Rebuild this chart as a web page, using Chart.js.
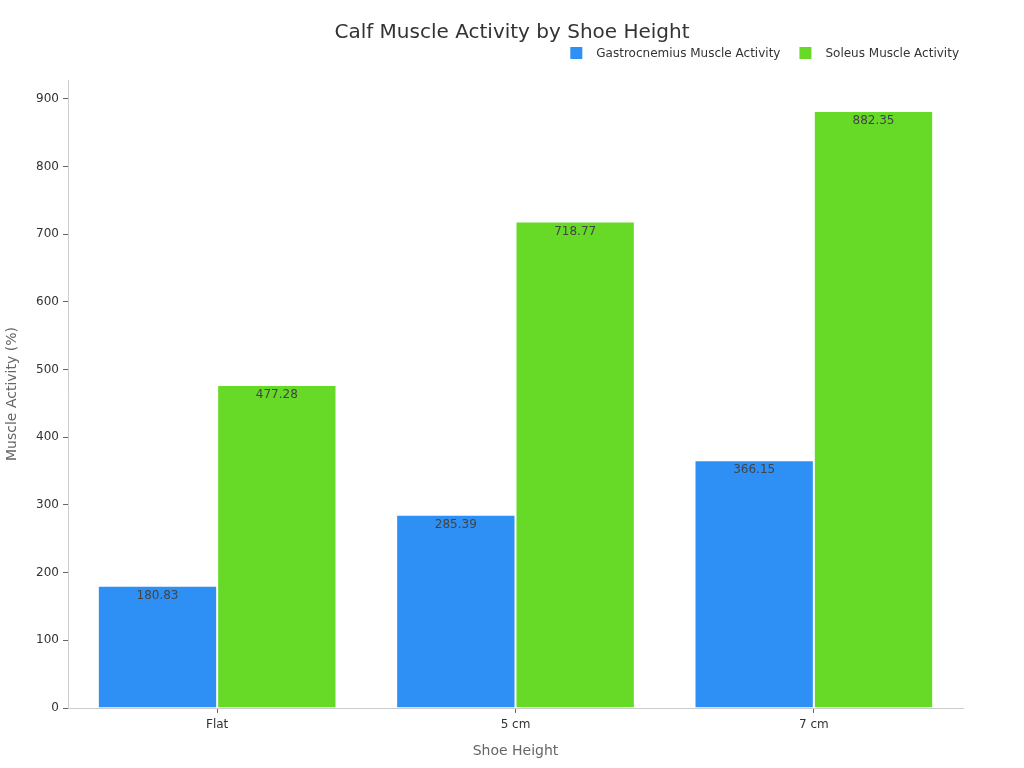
<!DOCTYPE html>
<html lang="en">
<head>
    <meta charset="UTF-8">
    <title>Calf Muscle Activity by Shoe Height</title>
    <script src="https://cdn.jsdelivr.net/npm/chart.js"></script>
    <style>
        body { margin: 0; background: #fff; }
        #wrap { width: 1024px; height: 768px; }
    </style>
</head>
<body>
    <div id="wrap"><canvas id="miGrafica" width="1024" height="768"></canvas></div>
    <script>
        // datos
        const categories = ['Flat', '5 cm', '7 cm'];
        const gastrocnemius = [180.83, 285.39, 366.15];
        const soleus = [477.28, 718.77, 882.35];
        const seriesNames = ['Gastrocnemius Muscle Activity', 'Soleus Muscle Activity'];
        const chartTitle = 'Calf Muscle Activity by Shoe Height';

        const FONT = '"DejaVu Sans", Verdana, sans-serif';
        Chart.defaults.font.family = FONT;

        // etiquetas de valor dentro de la barra, arriba
        const valueLabels = {
            id: 'valueLabels',
            afterDatasetsDraw(chart) {
                const ctx = chart.ctx;
                ctx.save();
                ctx.font = '12px ' + FONT;
                ctx.fillStyle = '#444';
                ctx.textAlign = 'center';
                ctx.textBaseline = 'middle';
                chart.data.datasets.forEach((ds, i) => {
                    chart.getDatasetMeta(i).data.forEach((bar, j) => {
                        ctx.fillText(ds.data[j].toFixed(2), bar.x, bar.y + 10);
                    });
                });
                ctx.restore();
            }
        };

        // titulo centrado en el lienzo y leyenda alineada a la derecha
        const header = {
            id: 'header',
            afterDraw(chart) {
                const ctx = chart.ctx;
                ctx.save();
                ctx.fillStyle = '#333';
                ctx.textAlign = 'center';
                ctx.textBaseline = 'middle';
                ctx.font = '20px ' + FONT;
                ctx.fillText(chartTitle, chart.width / 2, 33);

                ctx.font = '12px ' + FONT;
                ctx.textAlign = 'left';
                const box = 12, gap = 14, spacing = 19, y = 53;
                const items = chart.data.datasets.map(ds => ({
                    text: ds.label, color: ds.backgroundColor,
                    w: box + gap + ctx.measureText(ds.label).width
                }));
                let total = items.reduce((s, it) => s + it.w, 0) + spacing * (items.length - 1);
                let x = 959 - total;
                items.forEach(it => {
                    ctx.fillStyle = it.color;
                    ctx.fillRect(x, y - box / 2, box, box);
                    ctx.fillStyle = '#333';
                    ctx.fillText(it.text, x + box + gap, y + 1);
                    x += it.w + spacing;
                });
                ctx.restore();
            }
        };

        const ctx = document.getElementById('miGrafica').getContext('2d');
        new Chart(ctx, {
            type: 'bar',
            data: {
                labels: categories,
                datasets: [{
                    label: seriesNames[0],
                    data: gastrocnemius,
                    backgroundColor: '#2e8ff5',
                    borderColor: 'rgba(255,255,255,0.7)',
                    borderWidth: 1,
                    categoryPercentage: 0.8,
                    barPercentage: 1.0
                }, {
                    label: seriesNames[1],
                    data: soleus,
                    backgroundColor: '#66da26',
                    borderColor: 'rgba(255,255,255,0.7)',
                    borderWidth: 1,
                    categoryPercentage: 0.8,
                    barPercentage: 1.0
                }]
            },
            options: {
                responsive: false,
                animation: false,
                layout: { padding: { left: 0, right: 61, top: 80, bottom: 0 } },
                plugins: {
                    title: { display: false },
                    legend: { display: false },
                    tooltip: { enabled: false }
                },
                scales: {
                    x: {
                        grid: { drawOnChartArea: false, offset: false, tickLength: 5, color: '#666' },
                        border: { color: '#ccc' },
                        ticks: { color: '#333', font: { size: 12 }, padding: 5 },
                        title: { display: true, text: 'Shoe Height', color: '#666', font: { size: 14 }, padding: { top: 4, bottom: 8 } },
                        afterFit(scale) { scale.height = 60; }
                    },
                    y: {
                        min: 0,
                        max: 928,
                        grid: { drawOnChartArea: false, tickLength: 5, color: '#666' },
                        border: { color: '#ccc' },
                        ticks: { stepSize: 100, color: '#333', font: { size: 12 }, padding: 4 },
                        afterBuildTicks(scale) {
                            scale.ticks = scale.ticks.filter(t => t.value % 100 === 0);
                        },
                        title: { display: true, text: 'Muscle Activity (%)', color: '#666', font: { size: 14 } },
                        afterFit(scale) { scale.width = 68; }
                    }
                }
            },
            plugins: [valueLabels, header]
        });
    </script>
</body>
</html>
